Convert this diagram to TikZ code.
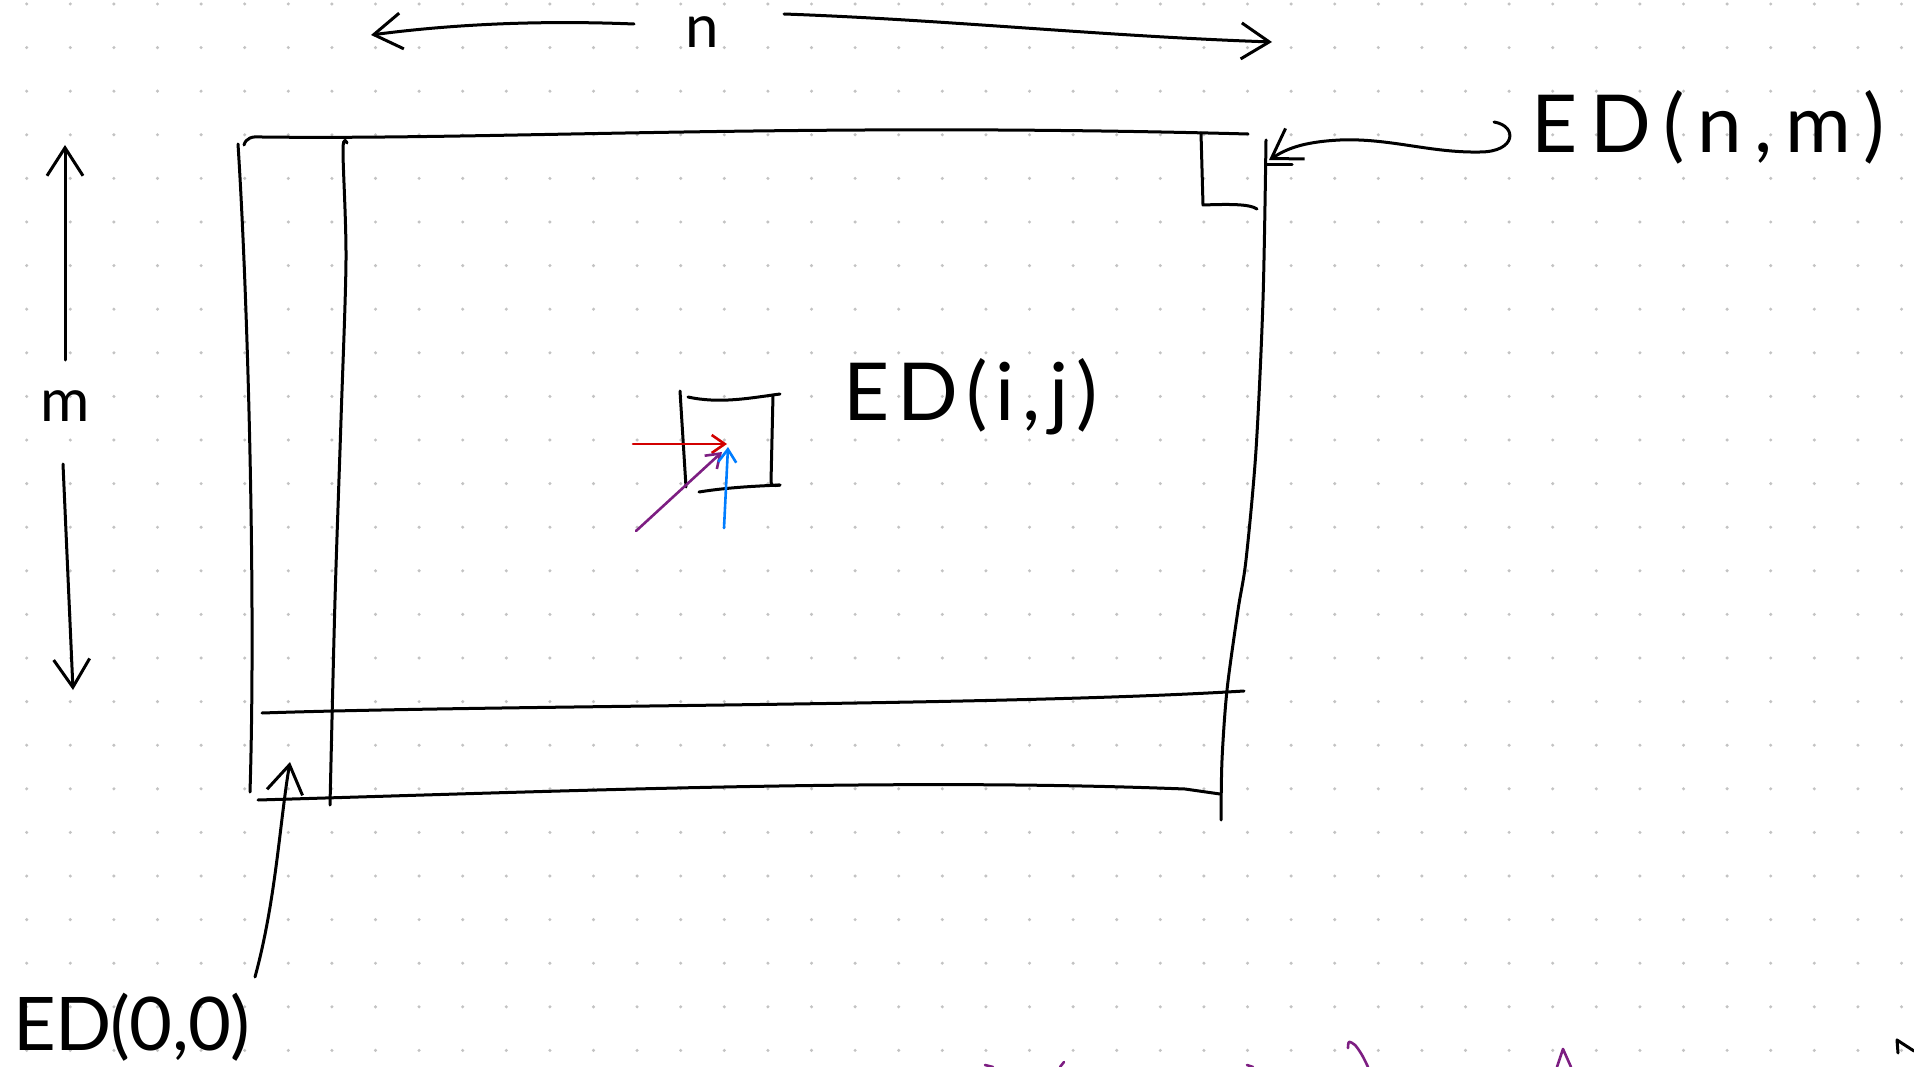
\documentclass[tikz,border=0pt]{standalone}
\usepackage{fontspec}
\newfontfamily\hand{Lato}
\usetikzlibrary{arrows.meta}
\definecolor{penred}{RGB}{210,0,0}
\definecolor{penpurple}{RGB}{125,30,130}
\definecolor{penblue}{RGB}{0,125,255}
\definecolor{dotgray}{RGB}{195,195,195}
\tikzset{
  ink/.style={line width=3pt, line cap=round, line join=round},
  colink/.style={line width=2.6pt, line cap=round, line join=round},
  barb/.style={-{Straight Barb[length=28pt,width=36pt]}},
  smallbarb/.style={-{Straight Barb[length=13pt,width=18pt]}},
  lbl/.style={inner sep=0pt, anchor=base west},
}
\begin{document}
\begin{tikzpicture}[x=1pt,y=-1pt]
\useasboundingbox (0,0) rectangle (1914,1067);
\fill[white] (0,0) rectangle (1914,1067);
% dot grid
\foreach \i in {0,...,43}{\foreach \j in {0,...,24}{
  \fill[dotgray] ({26.7+43.6*\i},{4+43.6*\j}) circle (1.7pt);}}

% labels
\node[inner sep=0pt, anchor=base] (n) at (702,48) {\hand\fontsize{60}{60}\selectfont n};
\node[inner sep=0pt, anchor=base] (m) at (65,421) {\hand\fontsize{60}{60}\selectfont m};
\node[lbl] (eij) at (843,420) {\hand\addfontfeature{LetterSpace=10}\fontsize{80}{80}\selectfont ED(i,j)};
\node[lbl] (enm) at (1531,153) {\hand\addfontfeature{LetterSpace=16}\fontsize{80}{80}\selectfont ED(n,m)};
\node[lbl] (e00) at (13,1050) {\hand\addfontfeature{LetterSpace=-1}\fontsize{74}{74}\selectfont ED(0,0)};

% named free ends
\coordinate (nLs) at (634,24);
\coordinate (nLe) at (371,35);
\coordinate (nRs) at (784,14);
\coordinate (nRe) at (1272,42);
\coordinate (mUs) at (65,360);
\coordinate (mUe) at (65,145);
\coordinate (mDs) at (63,464);
\coordinate (mDe) at (73,690);
\coordinate (nmS) at (1494,122);
\coordinate (nmE) at (1269,160);
\coordinate (ooS) at (255,977);
\coordinate (ooE) at (290,762);

% n arrows
\draw[ink,barb] (nLs) .. controls (560,21) and (470,22) .. (nLe);
\draw[ink,barb] (nRs) .. controls (950,20) and (1100,36) .. (nRe);
% m arrows
\draw[ink,barb] (mUs) -- (mUe);
\draw[ink,barb] (mDs) -- (mDe);

% outer rectangle
\draw[ink] (238,144) .. controls (248,300) and (256,600) .. (250,792);
\draw[ink] (244,145) .. controls (246,138) and (252,136) .. (262,137)
   .. controls (500,140) and (800,122) .. (1248,134);
\draw[ink] plot[smooth] coordinates {(1266,140) (1263,300) (1256,450) (1246,560) (1238,610) (1227,690) (1222,760) (1221,820)};
% inner vertical
\draw[ink] plot[smooth] coordinates {(347,143) (343,150) (346,260) (341,420) (335,600) (330,805)};
% inner horizontal and bottom
\draw[ink] (262,713) .. controls (500,705) and (1000,706) .. (1244,691);
\draw[ink] (258,800) .. controls (600,790) and (900,778) .. (1185,789) -- (1220,794);
% top right cell
\draw[ink] (1201,133) -- (1203,205) .. controls (1230,204) and (1250,204) .. (1257,209);
\draw[ink] (1267,165) -- (1292,165);

% ED(n,m) arrow
\draw[ink,barb] (nmS) .. controls (1518,126) and (1516,152) .. (1480,152)
   .. controls (1430,153) and (1390,138) .. (1340,140)
   .. controls (1300,142) and (1285,150) .. (nmE);
% ED(0,0) arrow
\draw[ink,barb] (ooS) .. controls (276,900) and (280,820) .. (ooE);

% small cell ED(i,j)
\draw[ink] (680,391) -- (686,487);
\draw[ink] (688,397) .. controls (720,404) and (750,398) .. (780,394);
\draw[ink] (773,395) -- (771,482) .. controls (772,486) .. (780,485);
\draw[ink] (699,492) .. controls (730,487) and (760,486) .. (780,485);
\coordinate (cellT) at (727,444);
\coordinate (redS) at (633,444);
\coordinate (purS) at (636,531);
\coordinate (bluS) at (724,528);
\draw[colink,penred,smallbarb] (redS) -- (cellT);
\draw[colink,penpurple,smallbarb] (purS) -- (722,452);
\draw[colink,penblue,smallbarb] (bluS) -- (728,447);

% partial strokes at the bottom edge
\draw[colink,penpurple] (985,1065) -- (993,1067);
\draw[colink,penpurple] (1060,1067) -- (1064,1062);
\draw[colink,penpurple] (1247,1065) -- (1253,1067);
\draw[colink,penpurple] plot[smooth] coordinates {(1348,1048) (1349,1042) (1355,1045) (1362,1055) (1368,1067)};
\draw[colink,penpurple] (1557,1067) -- (1563,1049) -- (1571,1067);
\draw[ink] (1898,1053) -- (1897,1040) -- (1914,1051);
\end{tikzpicture}
\end{document}
